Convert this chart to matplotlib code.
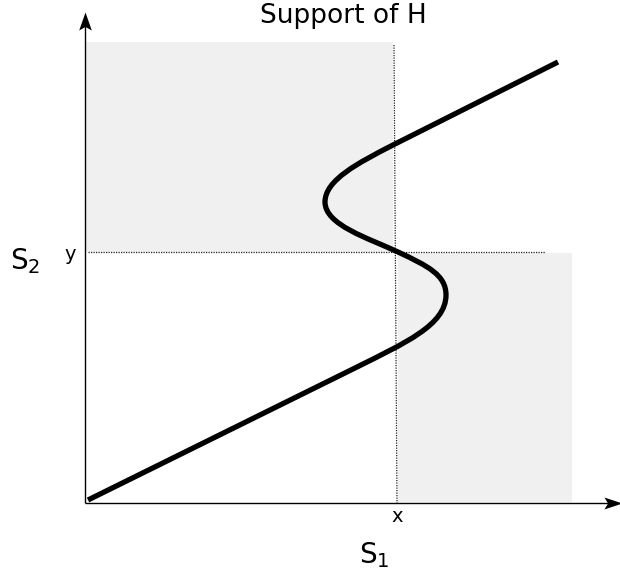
import matplotlib
matplotlib.use("Agg")
import matplotlib.pyplot as plt
from matplotlib.patches import Rectangle, PathPatch
from matplotlib.path import Path

plt.rcParams['mathtext.fontset'] = 'dejavusans'
plt.rcParams['font.family'] = ['DejaVu Sans']

# S-shaped curve as Bezier nodes (anchors and handles;
# units relative to the origin of the axes)
curve_s1 = [3, 270, 320, 361, 361, 361, 343, 313, 283, 240, 240, 240, 273, 308, 473]
curve_s2 = [3, 135, 160, 178, 208, 228, 237, 251, 265, 278, 301, 323, 340, 358, 441]
curve_codes = [Path.MOVETO, Path.LINETO,
               Path.CURVE4, Path.CURVE4, Path.CURVE4,
               Path.CURVE4, Path.CURVE4, Path.CURVE4,
               Path.CURVE4, Path.CURVE4, Path.CURVE4,
               Path.CURVE4, Path.CURVE4, Path.CURVE4,
               Path.LINETO]

# Point (x, y) and shaded support regions
x_pt = 312
y_pt = 251
top_left = (0, 308, 251, 461)      # s1_min, s1_max, s2_min, s2_max
bottom_right = (313, 487, 1, 250)

title = "Support of H"

fig = plt.figure(figsize=(6.2, 5.75), dpi=100)
ax = fig.add_axes([0, 0, 1, 1])
ax.set_xlim(-85, 535)
ax.set_ylim(-72, 503)
ax.axis('off')

shade = '#f0f0f0'
for (a, b, c, d) in (top_left, bottom_right):
    ax.add_patch(Rectangle((a, c), b - a, d - c, facecolor=shade, edgecolor='none', zorder=0))

# dotted guide lines
ax.plot([x_pt - 3, x_pt], [458, 0], color='#222222', lw=0.9, ls=(0, (1, 1)), zorder=1)
ax.plot([3, 460], [y_pt, y_pt], color='#222222', lw=0.9, ls=(0, (1, 1)), zorder=1)

# axes lines
ax.plot([0, 0], [0, 480], color='black', lw=1.0, zorder=3, solid_capstyle='butt')
ax.plot([0, 525], [0, 0], color='black', lw=1.0, zorder=3, solid_capstyle='butt')

# stealth arrow heads
up_head = Path([(0, 0.5), (0.35, -0.5), (0, -0.3), (-0.35, -0.5), (0, 0.5)],
               [Path.MOVETO, Path.LINETO, Path.LINETO, Path.LINETO, Path.CLOSEPOLY])
right_head = Path([(0.5, 0), (-0.5, 0.33), (-0.3, 0), (-0.5, -0.33), (0.5, 0)],
                  [Path.MOVETO, Path.LINETO, Path.LINETO, Path.LINETO, Path.CLOSEPOLY])
ax.plot([0], [482], marker=up_head, markersize=13, color='black', mew=0, zorder=5)
ax.plot([528], [0], marker=right_head, markersize=13, color='black', mew=0, zorder=5)

# curve
curve = Path(list(zip(curve_s1, curve_s2)), curve_codes)
ax.add_patch(PathPatch(curve, facecolor='none', edgecolor='black', lw=3.8,
                       capstyle='butt', joinstyle='round', zorder=4))

# labels
ax.text(x_pt, -14, 'x', ha='center', va='center', fontsize=14)
ax.text(-15, 248, 'y', ha='center', va='center', fontsize=14)
ax.text(289, -52, r'$\mathrm{S}_{1}$', ha='center', va='center', fontsize=20)
ax.text(-60, 242, r'$\mathrm{S}_{2}$', ha='center', va='center', fontsize=20)
ax.text(258, 487, title, ha='center', va='center', fontsize=19)

fig.savefig('out.png', dpi=100)
